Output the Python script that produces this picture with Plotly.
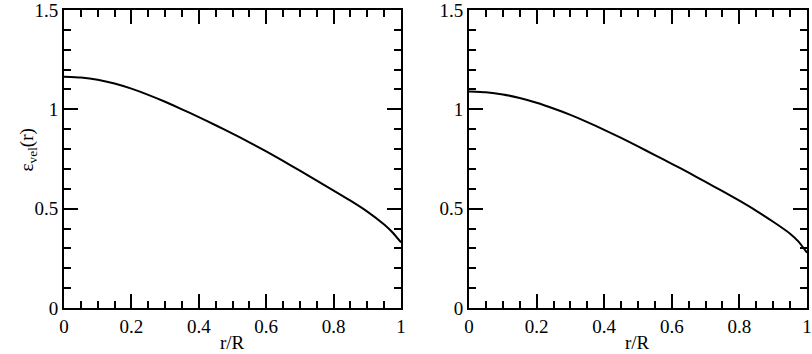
import plotly.graph_objects as go

# r/R positions and epsilon_vel(r)
r_left = [0, 0.05, 0.1, 0.15, 0.2, 0.25, 0.3, 0.35, 0.4, 0.45, 0.5, 0.55,
          0.6, 0.65, 0.7, 0.75, 0.8, 0.85, 0.9, 0.95, 0.975, 1.0]
eps_left = [1.164, 1.160, 1.149, 1.130, 1.104, 1.073, 1.038, 1.000, 0.961,
            0.920, 0.878, 0.834, 0.788, 0.740, 0.691, 0.641, 0.591, 0.540,
            0.485, 0.420, 0.380, 0.330]

r_right = [0, 0.05, 0.1, 0.15, 0.2, 0.25, 0.3, 0.35, 0.4, 0.45, 0.5, 0.55,
           0.6, 0.65, 0.7, 0.75, 0.8, 0.85, 0.9, 0.95, 0.975, 1.0]
eps_right = [1.090, 1.086, 1.075, 1.057, 1.033, 1.004, 0.972, 0.936, 0.897,
             0.856, 0.813, 0.770, 0.726, 0.681, 0.635, 0.588, 0.540, 0.489,
             0.434, 0.374, 0.334, 0.278]

x_ticks = [0, 0.2, 0.4, 0.6, 0.8, 1]
x_labels = ["0", "0.2", "0.4", "0.6", "0.8", "1"]
y_ticks = [0, 0.5, 1, 1.5]
y_labels = ["0", "0.5", "1", "1.5"]

FONT = dict(family="Liberation Serif, Times New Roman, serif", size=19, color="black")

fig = go.Figure()
fig.add_trace(go.Scatter(x=r_left, y=eps_left, mode="lines",
                         line=dict(color="black", width=2, shape="spline", smoothing=0.5),
                         xaxis="x", yaxis="y"))
fig.add_trace(go.Scatter(x=r_right, y=eps_right, mode="lines",
                         line=dict(color="black", width=2, shape="spline", smoothing=0.5),
                         xaxis="x2", yaxis="y2"))

common = dict(showline=True, linecolor="black", linewidth=2, mirror="allticks",
              ticks="inside", ticklen=14, tickwidth=1.5, tickcolor="black",
              showgrid=False, zeroline=False, tickfont=FONT, automargin=False,
              ticklabeloverflow="allow")
xa = dict(common, range=[0, 1], tickvals=x_ticks, ticktext=x_labels,
          minor=dict(dtick=0.05, ticks="inside", ticklen=7, tickwidth=1.5, tickcolor="black"))
ya = dict(common, range=[0, 1.5], tickvals=y_ticks, ticktext=y_labels,
          minor=dict(dtick=0.1, ticks="inside", ticklen=7, tickwidth=1.5, tickcolor="black"))

fig.update_layout(
    width=812, height=354,
    margin=dict(l=64, r=5, t=10, b=46),
    paper_bgcolor="white", plot_bgcolor="white",
    showlegend=False,
    font=FONT,
    xaxis=dict(xa, domain=[0, 0.4536], anchor="y"),
    yaxis=dict(ya, domain=[0, 1], anchor="x"),
    xaxis2=dict(xa, domain=[0.5451, 1], anchor="y2"),
    yaxis2=dict(ya, domain=[0, 1], anchor="x2"),
)

# axis titles
fig.add_annotation(text="r/R", x=0.2268, y=-0.117, xref="paper", yref="paper",
                   showarrow=False, font=FONT, xanchor="center", yanchor="middle")
fig.add_annotation(text="r/R", x=0.7725, y=-0.117, xref="paper", yref="paper",
                   showarrow=False, font=FONT, xanchor="center", yanchor="middle")
fig.add_annotation(text="ε<sub>vel</sub>(r)", x=-0.048, y=0.53, xref="paper", yref="paper",
                   showarrow=False, font=FONT, textangle=-90,
                   xanchor="center", yanchor="middle")

# drop the default page margin so the figure sits at the window corner
fig.write_html("out.html", config={"displayModeBar": False},
               post_script="document.body.style.margin='0';")
